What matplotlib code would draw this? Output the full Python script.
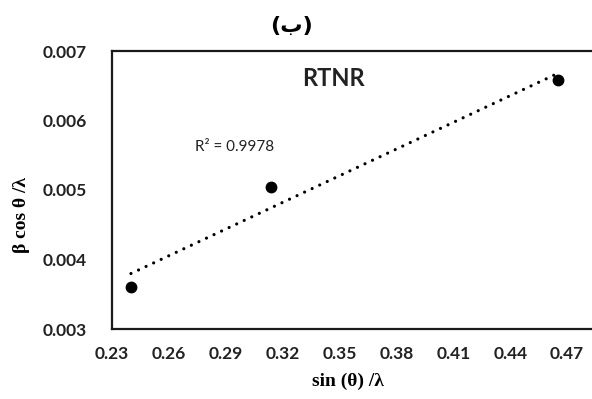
import numpy as np
import matplotlib
matplotlib.use('Agg')
import matplotlib.pyplot as plt

# data
sinTheta = [0.24, 0.314, 0.465]
betaCos = [0.0036, 0.00504, 0.00658]
xTicks = [0.23, 0.26, 0.29, 0.32, 0.35, 0.38, 0.41, 0.44, 0.47]
yTicks = [0.003, 0.004, 0.005, 0.006, 0.007]
r2Text = 'R² = 0.9978'
sampleName = 'RTNR'
panelTitle = '(ب)'

W, H = 592, 399
fig = plt.figure(figsize=(W / 100, H / 100), dpi=100)
# right edge of the plot box is cut off in the original picture
ax = fig.add_axes([112 / W, 1 - 329 / H, (624 - 112) / W, (329 - 51) / H])

ax.plot(sinTheta, betaCos, 'o', color='black', markersize=7.5, zorder=3)

# linear trendline (least squares)
slope, inter = np.polyfit(sinTheta, betaCos, 1)
tx = np.array([min(sinTheta), max(sinTheta)])
ax.plot(tx, slope * tx + inter, color='black', lw=2.3,
        linestyle=(0, (0.01, 2.6)), dash_capstyle='round', zorder=2)

ax.set_xlim(0.23, 0.50)
ax.set_ylim(0.003, 0.007)
ax.set_xticks(xTicks)
ax.set_yticks(yTicks)
ax.set_xticklabels(['%.2f' % v for v in xTicks])
ax.set_yticklabels(['%.3f' % v for v in yTicks])
ax.tick_params(length=0, labelsize=12.5, colors='#222222')
ax.tick_params(axis='x', pad=12)
ax.tick_params(axis='y', pad=18)
for lab in ax.get_xticklabels() + ax.get_yticklabels():
    lab.set_fontfamily('Lato')
    lab.set_fontweight('bold')

for s in ['left', 'top', 'bottom']:
    ax.spines[s].set_linewidth(1.6)
    ax.spines[s].set_color('#1a1a1a')
ax.spines['right'].set_visible(False)

ax.text(0.347, 0.0066, sampleName, ha='center', va='center',
        fontsize=17, fontweight='bold', family='Lato', color='#222222')
ax.text(0.2738, 0.00562, r2Text, ha='left', va='center',
        fontsize=11, family='Lato', color='#222222')

fig.text(292 / W, 1 - 26 / H, panelTitle, ha='center', va='center',
         fontsize=16, fontweight='bold', family='DejaVu Sans')
fig.text(348 / W, 1 - 381 / H, 'sin (θ) /λ', ha='center', va='center',
         fontsize=14, fontweight='bold', family='Liberation Serif')
fig.text(21 / W, 1 - 215 / H, 'β cos θ /λ', ha='center', va='center',
         rotation=90, fontsize=14, fontweight='bold', family='Liberation Serif')

fig.savefig('out.png', dpi=100)
